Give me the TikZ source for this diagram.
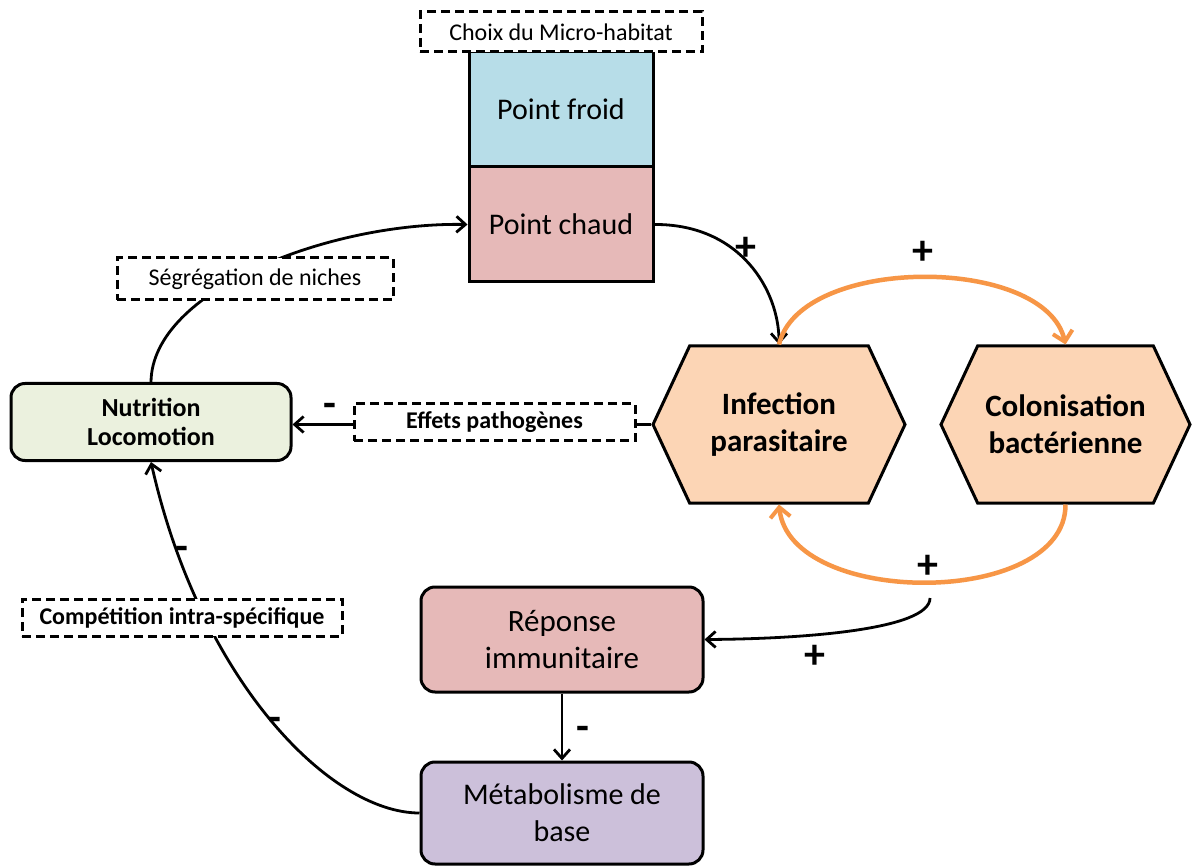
\documentclass[tikz,border=0pt]{standalone}
\usepackage{fontspec}
\setmainfont{Carlito}
\usetikzlibrary{arrows.meta,shapes.symbols,calc}
\definecolor{cold}{HTML}{B7DDE8}
\definecolor{hot}{HTML}{E6B9B8}
\definecolor{peach}{HTML}{FCD5B5}
\definecolor{sage}{HTML}{EBF1DE}
\definecolor{lilac}{HTML}{CCC0DA}
\definecolor{orangeline}{HTML}{F79646}
\begin{document}
\begin{tikzpicture}[x=1pt,y=-1pt,
  dbox/.style={draw=black, line width=3pt, dash pattern=on 9pt off 5pt, fill=white, inner sep=0pt, align=center},
  sqbox/.style={draw=black, line width=3pt, inner sep=0pt, align=center, minimum width=184pt, minimum height=115pt, font=\fontsize{30}{34}\selectfont},
  rbox/.style={draw=black, line width=3pt, rounded corners=14pt, inner sep=0pt, align=center},
  hexa/.style={signal, signal to=east and west, signal pointer angle=130, draw=black, line width=3pt, fill=peach, minimum height=157pt, inner sep=0pt, align=center, font=\bfseries\fontsize{31}{37}\selectfont},
  conn/.style={line width=2.8pt, -{Straight Barb[length=9pt,width=16pt,line width=2.8pt]}},
  oconn/.style={draw=orangeline, line width=4.5pt, -{Straight Barb[length=10pt,width=20pt,line width=4pt]}},
  sign/.style={font=\bfseries\fontsize{42}{42}\selectfont, inner sep=0pt},
  smalltxt/.style={font=\fontsize{24}{28}\selectfont},
  smallbold/.style={font=\bfseries\fontsize{24}{28}\selectfont}
]
\useasboundingbox[fill=white] (0,0) rectangle (1194,866);

% solid nodes
\node[sqbox, fill=cold] (froid) at (561,109.5) {Point froid};
\node[sqbox, fill=hot] (chaud) at (561,224.5) {Point chaud};
\node[rbox, fill=sage, minimum width=280pt, minimum height=77pt, font=\bfseries\fontsize{26}{29}\selectfont] (nutri) at (151,422) {Nutrition\\Locomotion};
\node[hexa, minimum width=252pt] (inf) at (779,424.5) {Infection\\parasitaire};
\node[hexa, minimum width=249pt] (col) at (1065.5,424.5) {Colonisation\\bactérienne};
\node[rbox, fill=hot, minimum width=282pt, minimum height=105pt, font=\fontsize{31}{37}\selectfont] (rep) at (562,639.5) {Réponse\\immunitaire};
\node[rbox, fill=lilac, minimum width=282pt, minimum height=102pt, font=\fontsize{30}{37}\selectfont] (met) at (562,813) {Métabolisme de\\base};

% connectors
\draw[conn] (nutri.north) .. controls (152,290) and (330,222) .. (chaud.west);
\draw[conn] (chaud.east) .. controls (740,224) and (779,290) .. (inf.north);
\draw[oconn] (inf.north) .. controls (800,255) and (1045,255) .. (col.north);
\draw[oconn] (col.south) .. controls (1066,608) and (790,608) .. (inf.south);
\coordinate (bt) at (930,598);
\draw[conn] (bt) .. controls (930,630) and (800,639) .. (rep.east);
\draw[conn] (inf.west) -- (inf.west -| nutri.east);
\draw[conn] (rep.south) -- (met.north);
\draw[conn] (met.west) .. controls (330,813) and (200,680) .. (nutri.south);

% dashed label boxes
\node[dbox, minimum width=282pt, minimum height=40pt, smalltxt] (choix) at (561,32) {Choix du Micro-habitat};
\node[dbox, minimum width=276pt, minimum height=42pt, smalltxt] (seg) at (255,279) {Ségrégation de niches};
\node[dbox, minimum width=281pt, minimum height=37pt, smallbold] (eff) at (494.5,422) {Effets pathogènes};
\node[dbox, minimum width=320pt, minimum height=37pt, smallbold] (comp) at (182,617.5) {Compétition intra-spécifique};

% signs
\node[sign] (p1) at (746,249) {+};
\node[sign] (p2) at (923,253) {+};
\node[sign] (p3) at (928,567) {+};
\node[sign] (p4) at (815,657) {+};
\node[sign] (m1) at (330,410) {-};
\node[sign] (m2) at (583,733) {-};
\node[sign] (m3) at (182,553) {-};
\node[sign] (m4) at (275,724) {-};
\end{tikzpicture}
\end{document}
